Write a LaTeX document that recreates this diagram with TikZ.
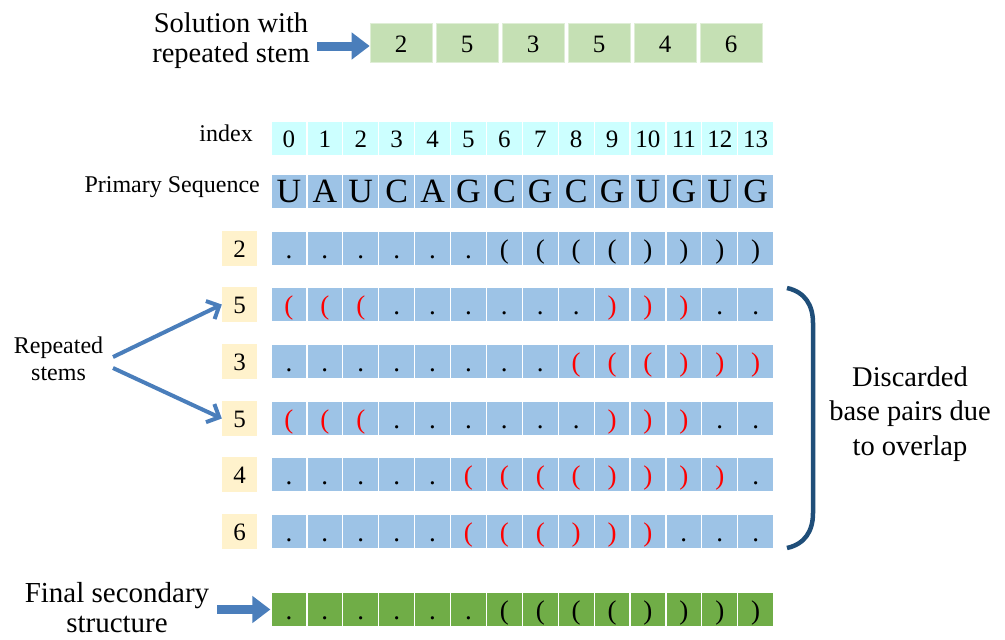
\documentclass[tikz,border=0pt]{standalone}
\usepackage{fontspec}
\newfontfamily\tnr{Liberation Serif}
\usetikzlibrary{arrows.meta}

\definecolor{idxcol}{RGB}{204,255,255}
\definecolor{rowcol}{RGB}{157,195,230}
\definecolor{labcol}{RGB}{255,242,204}
\definecolor{solcol}{RGB}{197,224,180}
\definecolor{fincol}{RGB}{112,173,71}
\definecolor{arrcol}{RGB}{74,126,187}
\definecolor{bracecol}{RGB}{31,78,121}

% symbols of a dot-bracket string: d = unpaired, o = opening, c = closing
\newcommand\bcol{black}
\newcommand\symd{.}
\newcommand\symo{\textcolor{\bcol}{(}}
\newcommand\symc{\textcolor{\bcol}{)}}

\tikzset{
  every node/.append style={execute at begin node={\tnr}},
  cell/.style={rectangle, minimum width=35.9pt, minimum height=35pt, inner sep=0pt,
               draw=white, line width=1.2pt, text depth=0pt},
  idxfont/.style={font=\fontsize{25}{25}\selectfont, text height=17pt},
  seqfont/.style={font=\fontsize{34}{34}\selectfont, text height=21pt},
  pairfont/.style={font=\fontsize{27}{27}\selectfont, text height=19pt},
  labbox/.style={rectangle, minimum width=35pt, minimum height=35pt, inner sep=0pt,
                 fill=labcol, font=\fontsize{25}{25}\selectfont, text height=17pt, text depth=0pt},
  solbox/.style={rectangle, minimum width=62pt, minimum height=39pt, inner sep=0pt,
                 fill=solcol, draw=solcol!55!white, line width=0.6pt,
                 font=\fontsize{25}{25}\selectfont, text height=19pt, text depth=0pt},
  blockarrow/.style={draw=arrcol, line width=9pt, -{Triangle[length=18pt,width=26pt]}},
  stemarrow/.style={draw=arrcol, line width=4pt, -{Straight Barb[length=10pt,width=20pt]}},
}

% one stem row: name, label, y centre, bracket colour, symbols
\newcommand\stemrow[5]{%
  \node[labbox] (#1-lab) at (239.5,#3) {#2};
  \def\bcol{#4}%
  \foreach \ch [count=\i from 0] in {#5} {
    \node[cell, fill=rowcol, pairfont] (#1-\i) at ({271+35.9*(\i+0.5)},#3) {\csname sym\ch\endcsname};
  }
}

\begin{document}
\begin{tikzpicture}[x=1pt,y=-1pt]
\useasboundingbox (0,0) rectangle (1005,640);

% solution vector
\node[align=center, font=\fontsize{28.5}{30}\selectfont] (soltxt) at (231,40.3) {\tnr Solution with\\\tnr repeated stem};
\foreach \v [count=\i from 0] in {2,5,3,5,4,6}
  \node[solbox] (sol-\i) at ({401+66*\i},42.5) {\v};
\coordinate (soltail) at (317,46);
\draw[blockarrow] (soltail) -- (soltail -| sol-0.west);

% index row and primary sequence
\node[anchor=base east, inner sep=0pt, font=\fontsize{24}{24}\selectfont] (idxtxt) at (253,141) {index};
\foreach \n [count=\i from 0] in {0,...,13}
  \node[cell, fill=idxcol, idxfont] (idx-\i) at ({271+35.9*(\i+0.5)},138.5) {\n};

\node[anchor=base east, inner sep=0pt, font=\fontsize{24}{24}\selectfont] (seqtxt) at (260,192) {Primary Sequence};
\foreach \ch [count=\i from 0] in {U,A,U,C,A,G,C,G,C,G,U,G,U,G}
  \node[cell, fill=rowcol, seqfont] (seq-\i) at ({271+35.9*(\i+0.5)},191.5) {\ch};

% stems in the order of the solution
\stemrow{ra}{2}{248.5}{black}{d,d,d,d,d,d,o,o,o,o,c,c,c,c}
\stemrow{rb}{5}{304.5}{red}{o,o,o,d,d,d,d,d,d,c,c,c,d,d}
\stemrow{rc}{3}{361.5}{red}{d,d,d,d,d,d,d,d,o,o,o,c,c,c}
\stemrow{rd}{5}{418.5}{red}{o,o,o,d,d,d,d,d,d,c,c,c,d,d}
\stemrow{re}{4}{474.5}{red}{d,d,d,d,d,o,o,o,o,c,c,c,c,d}
\stemrow{rf}{6}{531.5}{red}{d,d,d,d,d,o,o,o,c,c,c,d,d,d}

% repeated stems
\node[align=center, font=\fontsize{24}{27}\selectfont] (reptxt) at (58.5,358.3) {\tnr Repeated\\\tnr stems};
\coordinate (reptail1) at (113,357);
\coordinate (reptail2) at (113,368);
\draw[stemarrow] (reptail1) -- (rb-lab.west);
\draw[stemarrow] (reptail2) -- (rd-lab.west);

% discarded pairs
\coordinate (brtop) at (787,288);
\coordinate (brbot) at (787,548);
\draw[bracecol, line width=4.5pt]
  (brtop) .. controls (805,292) and (813,305) .. (813,323)
  -- (813,513) .. controls (813,531) and (805,544) .. (brbot);
\node[align=center, font=\fontsize{28.5}{34.5}\selectfont] (distxt) at (910,413.9) {\tnr Discarded\\\tnr base pairs due\\\tnr to overlap};

% final secondary structure
\def\bcol{black}
\foreach \ch [count=\i from 0] in {d,d,d,d,d,d,o,o,o,o,c,c,c,c}
  \node[cell, fill=fincol, pairfont] (fin-\i) at ({271+35.9*(\i+0.5)},609.5) {\csname sym\ch\endcsname};
\node[align=center, font=\fontsize{29}{30}\selectfont] (fintxt) at (117,607.1) {\tnr Final secondary\\\tnr structure};
\coordinate (fintail) at (217,609.5);
\draw[blockarrow] (fintail) -- (fintail -| fin-0.west);
\end{tikzpicture}
\end{document}
